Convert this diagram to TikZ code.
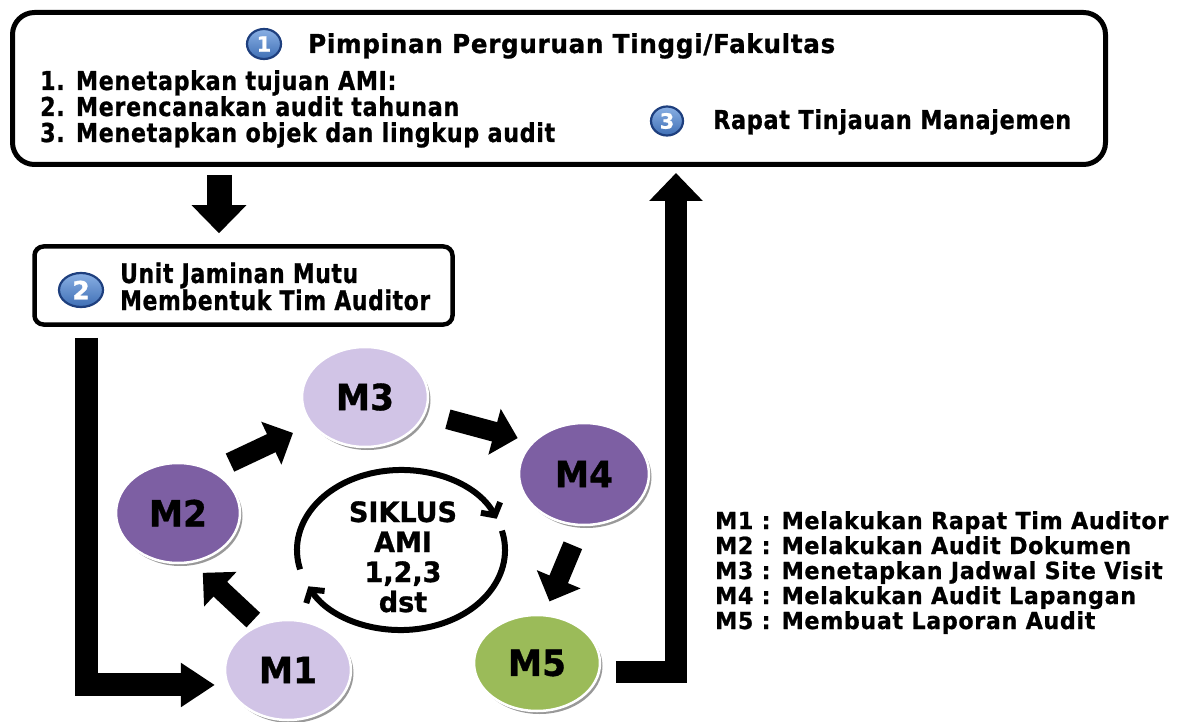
\documentclass[tikz,border=0pt]{standalone}
\usepackage{fontspec}
\setmainfont{DejaVu Sans}[BoldFeatures={FakeBold=1.0}]
\usepackage{graphicx}
\usetikzlibrary{arrows.meta,shapes.geometric,shadows,calc}
\definecolor{lav}{HTML}{D1C4E6}
\definecolor{pur}{HTML}{7D5FA3}
\definecolor{grn}{HTML}{9BBB59}
\definecolor{bdg}{HTML}{3F6FB5}
\definecolor{bdgtop}{HTML}{8AB0E4}
\definecolor{bdgline}{HTML}{1E3F7E}
\newsavebox\tmpbox
\newcommand\getscale[3]{\sbox\tmpbox{#3}\pgfmathsetmacro#1{#2/\the\wd\tmpbox}}
\newcommand\titlefont{\fontsize{26}{28}\selectfont\bfseries\addfontfeature{LetterSpace=3}}
\newcommand\itemfont{\fontsize{26}{27}\selectfont\bfseries\addfontfeature{LetterSpace=3}}
\newcommand\boxfont{\fontsize{27}{28}\selectfont\bfseries\addfontfeature{LetterSpace=3}}
\newcommand\lgdfont{\fontsize{23.5}{25}\selectfont\bfseries\addfontfeature{LetterSpace=3}}
\newcommand\mfont{\fontsize{36}{38}\selectfont\bfseries}
\newcommand\sfont{\fontsize{28}{30}\selectfont\bfseries}
\begin{document}
\getscale\tscale{527}{\titlefont Pimpinan Perguruan Tinggi/Fakultas}%
\getscale\iscale{515}{\itemfont 3. Menetapkan objek dan lingkup audit}%
\getscale\rscale{358}{\titlefont Rapat Tinjauan Manajemen}%
\getscale\bscale{310}{\boxfont Membentuk Tim Auditor}%
\getscale\lscale{453}{\lgdfont M1 : Melakukan Rapat Tim Auditor}%
\getscale\mscale{58}{\mfont M3}%
\getscale\sscale{108}{\sfont SIKLUS}%
\begin{tikzpicture}[x=1pt,y=-1pt,
  mnode/.style={ellipse, inner sep=0pt, outer sep=0pt, draw=white, line width=2.5pt,
    drop shadow={shadow xshift=2.5pt, shadow yshift=-3pt, fill=black, opacity=.4}, font=\mfont},
  badge/.style={ellipse, draw=bdgline, line width=2.2pt, top color=bdgtop, bottom color=bdg,
    text=white, inner sep=0pt, font=\fontsize{21}{21}\selectfont\bfseries},
  bigarr/.style={line width=25pt, -{Triangle[length=28pt,width=53pt]}},
  larr/.style={line width=23pt, -{Triangle[length=34pt,width=42pt]}},
  marr/.style={line width=20pt, -{Triangle[length=24pt,width=46pt]}},
  carr/.style={line width=6pt, line join=miter, -{Straight Barb[length=9pt,width=22pt]}},
  txt/.style={anchor=base west, inner sep=0pt},
  ctxt/.style={anchor=base, inner sep=0pt, font=\sfont}]
\useasboundingbox (0,0) rectangle (1181,722);
\fill[white] (0,0) rectangle (1181,722);

% top box
\node[draw, line width=5pt, rounded corners=22pt, minimum width=1093pt, minimum height=152pt] (top) at (559,88.5) {};
\node[badge, minimum width=34pt, minimum height=30pt] (b1) at (264,44) {1};
\node[txt] (t1) at (308,53) {\scalebox{\tscale}[1]{\titlefont Pimpinan Perguruan Tinggi/Fakultas}};
\node[txt] (i1) at (40,90) {\scalebox{\iscale}[1]{\itemfont 1. Menetapkan tujuan AMI:}};
\node[txt] (i2) at (40,116) {\scalebox{\iscale}[1]{\itemfont 2. Merencanakan audit tahunan}};
\node[txt] (i3) at (40,142) {\scalebox{\iscale}[1]{\itemfont 3. Menetapkan objek dan lingkup audit}};
\node[badge, minimum width=32pt, minimum height=29pt] (b3) at (667,121) {3};
\node[txt] (t3) at (713,129) {\scalebox{\rscale}[1]{\titlefont Rapat Tinjauan Manajemen}};

% box 2
\node[draw, line width=4.5pt, rounded corners=9pt, minimum width=418pt, minimum height=78pt] (box2) at (243.5,285.5) {};
\node[badge, minimum width=44pt, minimum height=34pt, font=\fontsize{25}{25}\selectfont\bfseries] (b2) at (81,290) {2};
\node[txt] (u1) at (120,283) {\scalebox{\bscale}[1]{\boxfont Unit Jaminan Mutu}};
\node[txt] (u2) at (120,310) {\scalebox{\bscale}[1]{\boxfont Membentuk Tim Auditor}};

% ellipses
\node[mnode, fill=lav, minimum width=126pt, minimum height=100pt] (m1) at (288,670) {\scalebox{\mscale}[1]{M1}};
\node[mnode, fill=pur, minimum width=124pt, minimum height=100pt] (m2) at (178,513) {\scalebox{\mscale}[1]{M2}};
\node[mnode, fill=lav, minimum width=126pt, minimum height=100pt] (m3) at (365,397) {\scalebox{\mscale}[1]{M3}};
\node[mnode, fill=pur, minimum width=130pt, minimum height=102pt] (m4) at (584,474) {\scalebox{\mscale}[1]{M4}};
\node[mnode, fill=grn, minimum width=126pt, minimum height=96pt] (m5) at (537,663) {\scalebox{\mscale}[1]{M5}};

% arrows between ellipses
\draw[marr, shorten <=8pt, shorten >=16pt] (m1.123) -- (m2.-75);
\draw[marr, shorten <=20pt, shorten >=21pt] (m2.51) -- (m3.207);
\draw[marr, shorten <=24pt, shorten >=16pt] (m3.-15) -- (m4.148);
\draw[marr, shorten <=22pt, shorten >=15pt] (m4.-93) -- (m5.82);

% big connectors
\coordinate (dx) at (219,0);
\coordinate (lx) at (86.5,0);
\coordinate (ux) at (676,0);
\draw[bigarr, shorten <=8pt, shorten >=11pt] (top.south -| dx) -- (box2.north -| dx);
\draw[larr, shorten <=11pt, shorten >=13pt] (box2.south -| lx) |- (m1.194);
\draw[line width=22pt, -{Triangle[length=28pt,width=52pt]}, shorten <=17pt, shorten >=6pt] (m5.-8) -| (top.south -| ux);

% cycle
\coordinate (cyc) at (401,550);
\draw[carr] ($(cyc)+(166:104 and 80)$) arc[start angle=166, end angle=337, x radius=104, y radius=80];
\draw[carr] ($(cyc)+(346:104 and 80)$) arc[start angle=346, end angle=513, x radius=104, y radius=80];
\node[ctxt] (s1) at (403,522) {\scalebox{\sscale}[1]{SIKLUS}};
\node[ctxt] (s2) at (403,552) {\scalebox{\sscale}[1]{AMI}};
\node[ctxt] (s3) at (403,582) {\scalebox{\sscale}[1]{1,2,3}};
\node[ctxt] (s4) at (403,612) {\scalebox{\sscale}[1]{dst}};

% legend
\node[txt] (l1) at (715,529) {\scalebox{\lscale}[1]{\lgdfont M1 : Melakukan Rapat Tim Auditor}};
\node[txt] (l2) at (715,554) {\scalebox{\lscale}[1]{\lgdfont M2 : Melakukan Audit Dokumen}};
\node[txt] (l3) at (715,579) {\scalebox{\lscale}[1]{\lgdfont M3 : Menetapkan Jadwal Site Visit}};
\node[txt] (l4) at (715,604) {\scalebox{\lscale}[1]{\lgdfont M4 : Melakukan Audit Lapangan}};
\node[txt] (l5) at (715,629) {\scalebox{\lscale}[1]{\lgdfont M5 : Membuat Laporan Audit}};
\end{tikzpicture}
\end{document}
